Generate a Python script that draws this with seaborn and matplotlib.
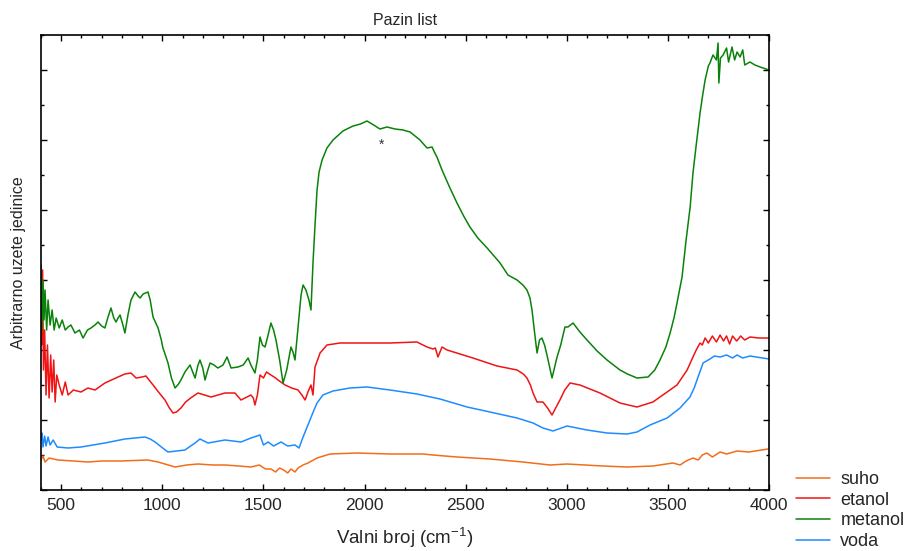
import matplotlib
matplotlib.use("Agg")
import matplotlib.pyplot as plt
from matplotlib.ticker import MultipleLocator, NullFormatter
import seaborn as sns
import pandas as pd

# podaci procitani sa slike (valni broj, intenzitet u proizvoljnim jedinicama)
suho_x = [400, 410, 420, 440, 484, 560, 632, 700, 796, 929, 979, 1063, 1120, 1176, 1250, 1310,
          1380, 1438, 1480, 1510, 1537, 1560, 1580, 1600, 1620, 1636, 1656, 1671, 1696, 1720,
          1765, 1829, 1963, 2126, 2289, 2338, 2457, 2620, 2783, 2917, 3001, 3179, 3298, 3426,
          3525, 3560, 3590, 3624, 3650, 3670, 3693, 3720, 3758, 3790, 3842, 3900, 3995]
suho_y = [30, 34, 28, 32, 30, 29, 28, 29, 29, 30, 28, 23, 25, 26, 25, 25,
          24, 23, 25, 21, 21, 18, 22, 20, 17, 21, 18, 22, 25, 27,
          32, 36, 37, 36, 36, 35, 33, 31, 28, 25, 26, 24, 23, 24,
          27, 25, 29, 32, 30, 35, 37, 33, 38, 36, 39, 38, 41]

etanol_x = [400, 403, 408, 412, 418, 425, 432, 440, 448, 455, 463, 470, 478, 490, 505, 520, 534,
            560, 598, 632, 667, 716, 781, 815, 845, 870, 900, 919, 954, 985, 1013, 1035, 1053,
            1070, 1092, 1115, 1140, 1176, 1241, 1310, 1359, 1389, 1438, 1450, 1458, 1470, 1483,
            1500, 1515, 1537, 1560, 1572, 1607, 1640, 1671, 1690, 1706, 1720, 1735, 1745, 1755,
            1780, 1814, 1879, 2012, 2126, 2259, 2309, 2338, 2350, 2363, 2383, 2408, 2536, 2655,
            2754, 2785, 2803, 2820, 2833, 2853, 2882, 2905, 2927, 2945, 2966, 2990, 3016, 3065,
            3164, 3263, 3347, 3426, 3496, 3545, 3595, 3624, 3640, 3659, 3670, 3684, 3700, 3720,
            3740, 3758, 3775, 3790, 3805, 3820, 3840, 3860, 3880, 3906, 3950, 4000]
etanol_y = [190, 145, 220, 120, 160, 95, 145, 92, 135, 98, 130, 88, 115, 105, 95, 108, 95,
            100, 98, 102, 100, 107, 113, 116, 117, 112, 113, 114, 105, 97, 90, 82, 77,
            78, 82, 88, 92, 97, 93, 97, 97, 90, 95, 92, 85, 95, 115,
            112, 118, 115, 112, 110, 105, 102, 100, 95, 90, 98, 105, 95, 123,
            137, 145, 147, 147, 147, 148, 143, 141, 142, 133, 143, 140, 132, 124,
            120, 116, 112, 105, 97, 88, 88, 82, 75, 82, 90, 100, 107, 105,
            97, 87, 83, 88, 98, 105, 120, 133, 140, 147, 145, 152, 147, 154,
            148, 155, 149, 154, 146, 154, 149, 154, 150, 153, 152, 152]

metanol_x = [400, 405, 410, 415, 420, 428, 435, 445, 455, 465, 475, 490, 505, 520, 534, 548, 568,
             590, 608, 630, 647, 667, 682, 700, 716, 730, 746, 760, 771, 781, 791, 805, 815, 830,
             845, 865, 880, 890, 905, 929, 940, 954, 979, 995, 1003, 1015, 1028, 1045, 1063, 1080,
             1092, 1112, 1137, 1150, 1162, 1175, 1186, 1200, 1211, 1225, 1236, 1255, 1275, 1300,
             1320, 1340, 1374, 1400, 1424, 1438, 1458, 1470, 1483, 1495, 1508, 1523, 1537, 1550,
             1562, 1580, 1597, 1615, 1636, 1646, 1656, 1670, 1686, 1696, 1710, 1725, 1735, 1745,
             1755, 1765, 1775, 1790, 1814, 1844, 1893, 1943, 1980, 2012, 2045, 2076, 2111, 2150,
             2190, 2225, 2274, 2309, 2334, 2345, 2358, 2383, 2420, 2457, 2490, 2521, 2560, 2606,
             2640, 2670, 2709, 2754, 2783, 2803, 2818, 2828, 2845, 2853, 2865, 2877, 2890, 2902,
             2927, 2952, 2970, 2991, 3006, 3031, 3065, 3100, 3150, 3199, 3263, 3300, 3347, 3402,
             3435, 3461, 3490, 3511, 3530, 3545, 3570, 3590, 3610, 3624, 3640, 3659, 3672, 3684,
             3700, 3708, 3723, 3740, 3748, 3752, 3760, 3773, 3790, 3800, 3817, 3830, 3842, 3857,
             3870, 3880, 3906, 3930, 3956, 4000]
metanol_y = [225, 160, 210, 170, 200, 160, 190, 165, 180, 160, 172, 162, 170, 160, 163, 165, 157,
             160, 152, 160, 162, 165, 168, 164, 162, 172, 182, 172, 168, 172, 175, 165, 157, 175,
             190, 198, 194, 192, 196, 198, 190, 173, 162, 150, 142, 135, 127, 112, 102, 106,
             110, 118, 125, 118, 112, 124, 130, 122, 110, 120, 127, 125, 122, 125,
             133, 122, 123, 125, 132, 125, 117, 130, 153, 145, 143, 155, 167, 160,
             150, 130, 107, 120, 143, 138, 130, 160, 195, 205, 200, 190, 180, 227,
             265, 300, 318, 330, 342, 350, 359, 364, 366, 369, 365, 361, 363, 361,
             360, 358, 350, 342, 343, 338, 333, 320, 303, 287, 274, 263, 252, 242,
             234, 227, 215, 210, 205, 200, 192, 180, 150, 137, 150, 152, 145, 135,
             112, 133, 145, 163, 163, 167, 158, 150, 139, 130, 120, 116, 112, 113,
             120, 130, 143, 157, 172, 187, 213, 250, 283, 317, 345, 377, 395, 410,
             424, 427, 435, 430, 447, 407, 432, 435, 442, 428, 443, 430, 438, 433,
             440, 425, 428, 425, 423, 420]

voda_x = [400, 405, 410, 418, 425, 435, 445, 460, 480, 534, 598, 716, 815, 914, 940, 964, 995,
          1028, 1070, 1112, 1140, 1162, 1186, 1226, 1310, 1389, 1438, 1483, 1500, 1523, 1550,
          1587, 1620, 1656, 1676, 1696, 1710, 1730, 1750, 1765, 1794, 1844, 1928, 2012, 2126,
          2259, 2373, 2507, 2620, 2754, 2833, 2882, 2932, 3001, 3100, 3199, 3298, 3347, 3412,
          3496, 3560, 3609, 3630, 3649, 3674, 3708, 3730, 3758, 3790, 3820, 3842, 3870, 3906,
          4000]
voda_y = [50, 57, 43, 54, 44, 53, 45, 50, 43, 42, 43, 47, 51, 53, 51, 48, 43,
          38, 39, 40, 44, 47, 51, 47, 50, 48, 52, 55, 45, 48, 44,
          48, 44, 45, 42, 53, 60, 70, 80, 87, 95, 99, 102, 103, 100,
          96, 91, 83, 78, 72, 67, 62, 59, 64, 60, 57, 56, 58, 65,
          72, 82, 93, 102, 113, 127, 131, 134, 133, 135, 132, 135, 132, 134,
          131]

nazivi = ["suho", "etanol", "metanol", "voda"]
boje = ["#f26d1b", "#f01414", "#0a820a", "#1e8cff"]

df = pd.concat([
    pd.DataFrame({"x": suho_x, "y": suho_y, "uzorak": "suho"}),
    pd.DataFrame({"x": etanol_x, "y": etanol_y, "uzorak": "etanol"}),
    pd.DataFrame({"x": metanol_x, "y": metanol_y, "uzorak": "metanol"}),
    pd.DataFrame({"x": voda_x, "y": voda_y, "uzorak": "voda"}),
])

sns.set_style("ticks")
plt.rcParams["font.family"] = ["Liberation Sans", "DejaVu Sans"]
plt.rcParams["mathtext.default"] = "regular"

fig = plt.figure(figsize=(9.13, 5.51), dpi=100)
ax = fig.add_axes([0.0449, 0.1107, 0.7974, 0.8258])

sns.lineplot(data=df, x="x", y="y", hue="uzorak", hue_order=nazivi, palette=boje,
             sort=False, estimator=None, linewidth=1.1, ax=ax, legend=True)

ax.text(2086, 345, "*", ha="center", va="center", fontsize=10, color="#333333")

ax.set_xlim(400, 4000)
ax.set_ylim(0, 455)
ax.xaxis.set_major_locator(MultipleLocator(500))
ax.xaxis.set_minor_locator(MultipleLocator(100))
ax.yaxis.set_major_locator(MultipleLocator(70))
ax.yaxis.set_minor_locator(MultipleLocator(35))
ax.yaxis.set_major_formatter(NullFormatter())
ax.tick_params(which="both", direction="in", top=True, right=True, color="black")
ax.tick_params(which="major", length=4, width=1)
ax.tick_params(which="minor", length=2.5, width=1)
ax.tick_params(axis="x", labelsize=12.5, pad=6)
for s in ax.spines.values():
    s.set_color("black")
    s.set_linewidth(1.2)

ax.set_title("Pazin list", fontsize=11.5, pad=7)
ax.set_xlabel("Valni broj (cm$^{-1}$)", fontsize=13.5, labelpad=9)
ax.set_ylabel("Arbitrarno uzete jedinice", fontsize=11.5, labelpad=7)

handles, labels = ax.get_legend_handles_labels()
ax.get_legend().remove()
fig.legend(handles, labels, loc="upper left", bbox_to_anchor=(0.872, 0.145),
           frameon=False, fontsize=13, handlelength=1.9, handletextpad=0.55,
           labelspacing=0.2, borderpad=0, borderaxespad=0)

fig.savefig("out.png", dpi=100)
